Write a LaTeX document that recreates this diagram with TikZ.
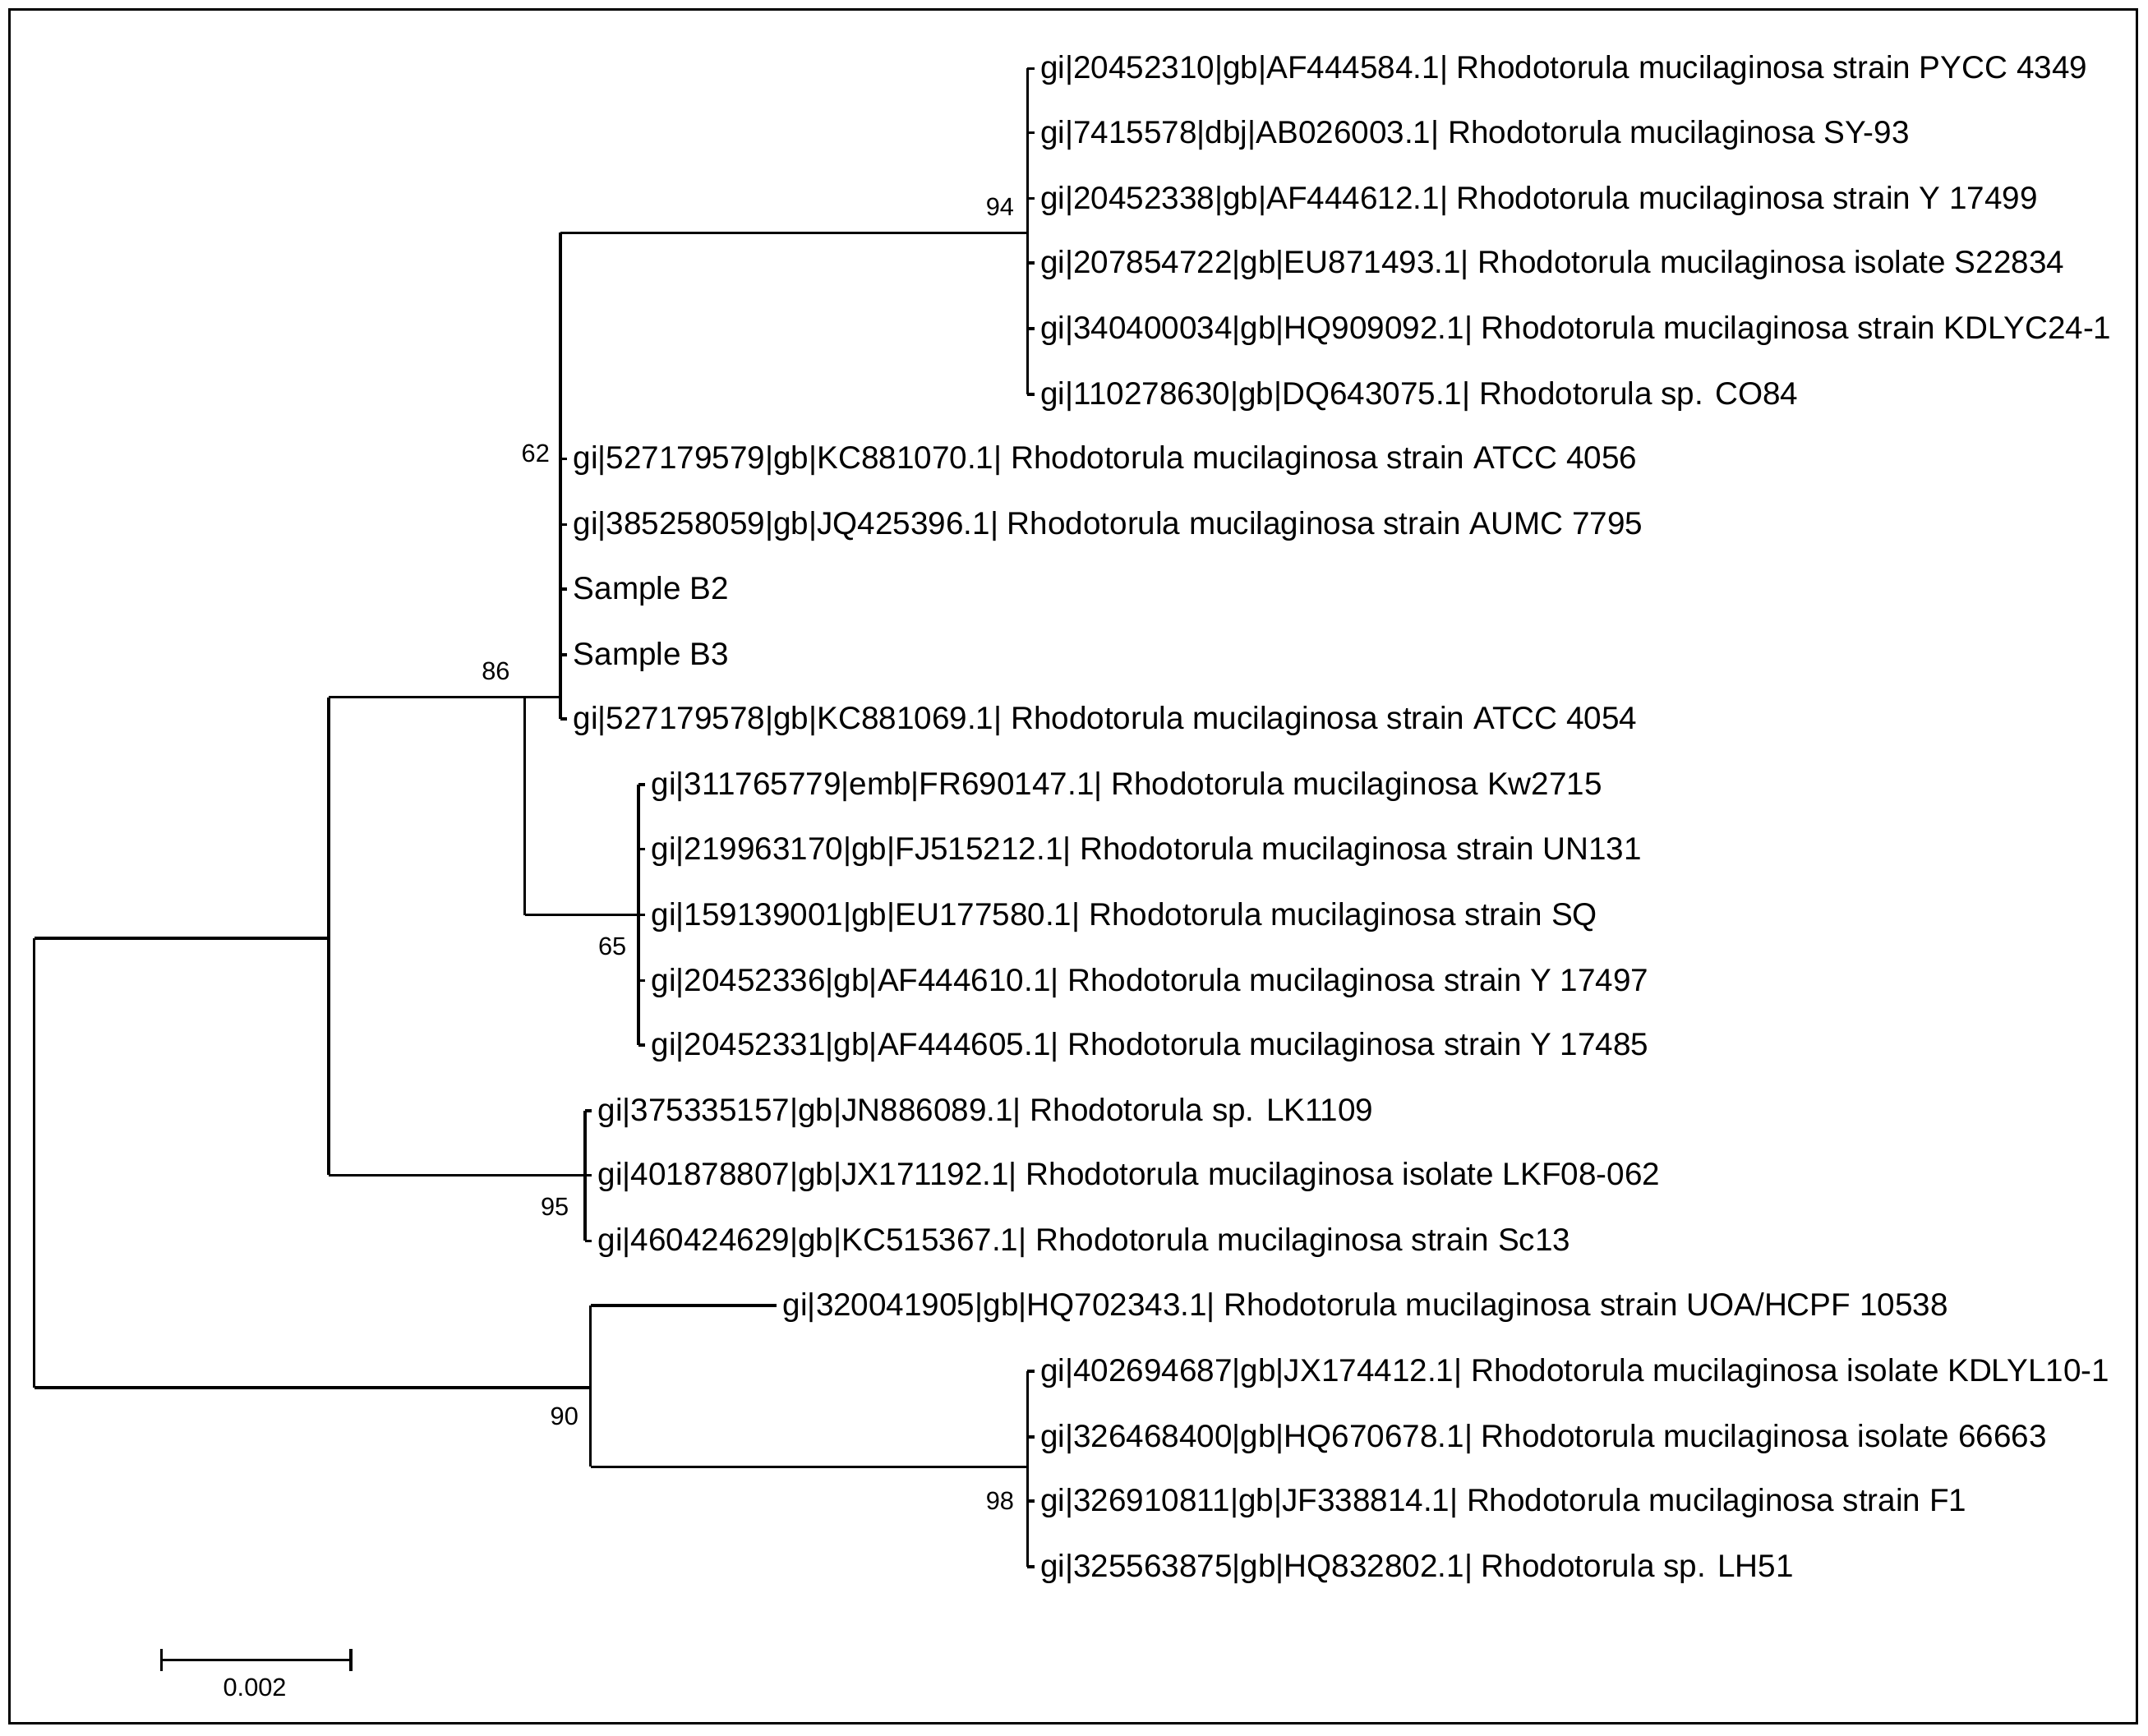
\documentclass[tikz,border=0pt]{standalone}
\usepackage{fontspec}
\setmainfont{Liberation Sans}
\begin{document}
\begin{tikzpicture}[x=0.02cm,y=-0.02cm,line width=1.2pt,
  leaf/.style={anchor=west,inner sep=2pt,font=\fontsize{13.2}{15}\selectfont},
  boot/.style={inner sep=0pt,font=\fontsize{10.5}{12}\selectfont}]
\useasboundingbox (0,0) rectangle (1568,1267);
\draw[line width=1pt] (7,7) rectangle (1560,1258);
% root
\draw (25,685) -- (25,1013);
\draw (25,685) -- (240,685);
\draw (25,1013) -- (431,1013);
% upper clade
\draw (240,509) -- (240,858);
\draw (240,509) -- (409,509);
\draw (383,509) -- (383,668);
\draw (383,668) -- (466,668);
\draw (240,858) -- (427,858);
% 62 clade
\draw (409,170) -- (409,525);
\draw (409,170) -- (750,170);
\draw (750,50) -- (750,288);
% 65 clade
\draw (466,573) -- (466,763);
% 95 clade
\draw (427,811) -- (427,906);
% lower clade
\draw (431,953) -- (431,1071);
\draw (431,1071) -- (750,1071);
\draw (750,1001) -- (750,1144);
% leaves
\foreach \x/\y/\t in {
750/50/{gi|20452310|gb|AF444584.1| Rhodotorula mucilaginosa strain PYCC 4349},
750/97/{gi|7415578|dbj|AB026003.1| Rhodotorula mucilaginosa SY-93},
750/145/{gi|20452338|gb|AF444612.1| Rhodotorula mucilaginosa strain Y 17499},
750/192/{gi|207854722|gb|EU871493.1| Rhodotorula mucilaginosa isolate S22834},
750/240/{gi|340400034|gb|HQ909092.1| Rhodotorula mucilaginosa strain KDLYC24-1},
750/288/{gi|110278630|gb|DQ643075.1| Rhodotorula sp. CO84},
409/335/{gi|527179579|gb|KC881070.1| Rhodotorula mucilaginosa strain ATCC 4056},
409/383/{gi|385258059|gb|JQ425396.1| Rhodotorula mucilaginosa strain AUMC 7795},
409/430/{Sample B2},
409/478/{Sample B3},
409/525/{gi|527179578|gb|KC881069.1| Rhodotorula mucilaginosa strain ATCC 4054},
466/573/{gi|311765779|emb|FR690147.1| Rhodotorula mucilaginosa Kw2715},
466/620/{gi|219963170|gb|FJ515212.1| Rhodotorula mucilaginosa strain UN131},
466/668/{gi|159139001|gb|EU177580.1| Rhodotorula mucilaginosa strain SQ},
466/716/{gi|20452336|gb|AF444610.1| Rhodotorula mucilaginosa strain Y 17497},
466/763/{gi|20452331|gb|AF444605.1| Rhodotorula mucilaginosa strain Y 17485},
427/811/{gi|375335157|gb|JN886089.1| Rhodotorula sp. LK1109},
427/858/{gi|401878807|gb|JX171192.1| Rhodotorula mucilaginosa isolate LKF08-062},
427/906/{gi|460424629|gb|KC515367.1| Rhodotorula mucilaginosa strain Sc13},
431/953/{gi|320041905|gb|HQ702343.1| Rhodotorula mucilaginosa strain UOA/HCPF 10538},
750/1001/{gi|402694687|gb|JX174412.1| Rhodotorula mucilaginosa isolate KDLYL10-1},
750/1049/{gi|326468400|gb|HQ670678.1| Rhodotorula mucilaginosa isolate 66663},
750/1096/{gi|326910811|gb|JF338814.1| Rhodotorula mucilaginosa strain F1},
750/1144/{gi|325563875|gb|HQ832802.1| Rhodotorula sp. LH51}}
{
  \pgfmathsetmacro{\e}{\x==431 ? 567 : \x+5}
  \draw (\x,\y) -- (\e,\y);
  \node[leaf] at (\e,\y+1.5) {\t};
}
% bootstrap labels
\node[boot] (b94) at (730,151) {94};
\node[boot] (b62) at (391,331) {62};
\node[boot] (b86) at (362,490) {86};
\node[boot] (b65) at (447,691) {65};
\node[boot] (b95) at (405,881) {95};
\node[boot] (b90) at (412,1034) {90};
\node[boot] (b98) at (730,1096) {98};
% scale bar
\draw (118,1212) -- (256,1212);
\draw (118,1204) -- (118,1220);
\draw (256,1204) -- (256,1220);
\node[boot] (sc) at (186,1232) {0.002};
\end{tikzpicture}
\end{document}
